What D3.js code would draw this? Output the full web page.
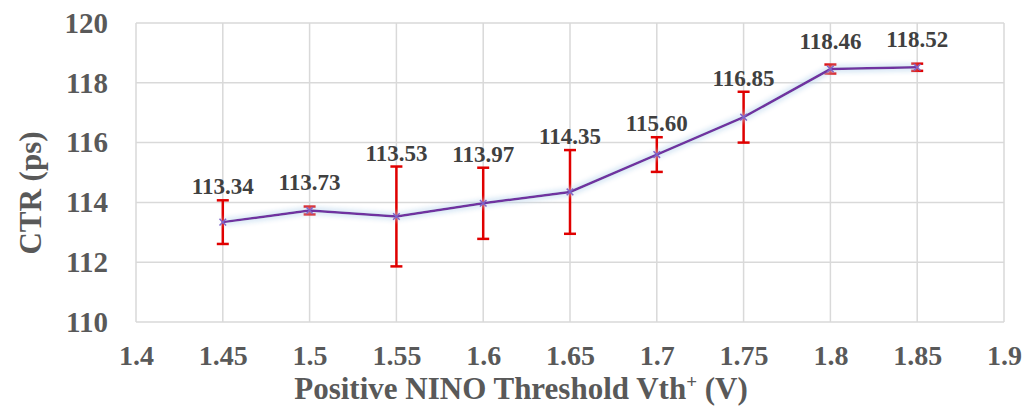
<!DOCTYPE html>
<html>
<head>
<meta charset="utf-8">
<script src="https://cdn.jsdelivr.net/npm/d3@7"></script>
<style>
  body { margin: 0; background: #fff; }
  svg text { font-family: "Liberation Serif", "Times New Roman", serif !important; font-weight: bold; }
</style>
</head>
<body>
<div id="chart"></div>
<script>
// data
var thresholds = [1.45, 1.5, 1.55, 1.6, 1.65, 1.7, 1.75, 1.8, 1.85];
var ctr = [113.34, 113.73, 113.53, 113.97, 114.35, 115.60, 116.85, 118.46, 118.52];
var ctrErr = [0.73, 0.13, 1.67, 1.19, 1.4, 0.58, 0.85, 0.15, 0.12];
var xTicks = [1.4, 1.45, 1.5, 1.55, 1.6, 1.65, 1.7, 1.75, 1.8, 1.85, 1.9];
var yTicks = [110, 112, 114, 116, 118, 120];

var data = thresholds.map(function(t, i) {
  return {x: t, y: ctr[i], err: ctrErr[i]};
});

var W = 1029, H = 414;
var margin = {top: 23, right: 25, bottom: 92, left: 136},
    width = W - margin.left - margin.right,
    height = H - margin.top - margin.bottom;

var svg = d3.select("#chart").append("svg")
    .attr("width", W)
    .attr("height", H);

// soft blue glow under the line
var defs = svg.append("defs");
var glow = defs.append("filter").attr("id", "glow")
    .attr("x", "-10%").attr("y", "-50%").attr("width", "120%").attr("height", "200%");
glow.append("feGaussianBlur").attr("in", "SourceAlpha").attr("stdDeviation", 3).attr("result", "b");
glow.append("feFlood").attr("flood-color", "#bdd7ee").attr("flood-opacity", 1);
glow.append("feComposite").attr("in2", "b").attr("operator", "in").attr("result", "g");
var merge = glow.append("feMerge");
merge.append("feMergeNode").attr("in", "g");
merge.append("feMergeNode").attr("in", "g");
merge.append("feMergeNode").attr("in", "SourceGraphic");

var g = svg.append("g")
    .attr("transform", "translate(" + margin.left + "," + margin.top + ")");

var x = d3.scaleLinear().domain([1.4, 1.9]).range([0, width]);
var y = d3.scaleLinear().domain([110, 120]).range([height, 0]);

// grid
g.selectAll(".vgrid")
  .data(xTicks)
  .enter().append("line")
    .attr("x1", function(d) { return x(d); })
    .attr("x2", function(d) { return x(d); })
    .attr("y1", 0)
    .attr("y2", height)
    .attr("stroke", "#d9d9d9")
    .attr("stroke-width", 1.5);

g.selectAll(".hgrid")
  .data(yTicks)
  .enter().append("line")
    .attr("x1", 0)
    .attr("x2", width)
    .attr("y1", function(d) { return y(d); })
    .attr("y2", function(d) { return y(d); })
    .attr("stroke", "#d9d9d9")
    .attr("stroke-width", 1.5);

// axes (labels only)
var xAxis = g.append("g")
    .attr("transform", "translate(0," + height + ")")
    .call(d3.axisBottom(x).tickValues(xTicks).tickSize(0).tickPadding(23)
      .tickFormat(function(d) { return String(+d.toFixed(2)); }));
xAxis.select(".domain").remove();
xAxis.selectAll("text")
    .attr("fill", "#595959")
    .style("font-size", "28px");

var yAxis = g.append("g")
    .call(d3.axisLeft(y).tickValues(yTicks).tickSize(0).tickPadding(28));
yAxis.select(".domain").remove();
yAxis.selectAll("text")
    .attr("fill", "#595959")
    .style("font-size", "29px");

// error bars
var eb = g.selectAll(".err")
  .data(data)
  .enter().append("g")
    .attr("class", "err")
    .attr("stroke", "#e00000")
    .attr("stroke-width", 2.5);

eb.append("line")
    .attr("x1", function(d) { return x(d.x); })
    .attr("x2", function(d) { return x(d.x); })
    .attr("y1", function(d) { return y(d.y + d.err); })
    .attr("y2", function(d) { return y(d.y - d.err); });

eb.append("line")
    .attr("x1", function(d) { return x(d.x) - 6; })
    .attr("x2", function(d) { return x(d.x) + 6; })
    .attr("y1", function(d) { return y(d.y + d.err); })
    .attr("y2", function(d) { return y(d.y + d.err); });

eb.append("line")
    .attr("x1", function(d) { return x(d.x) - 6; })
    .attr("x2", function(d) { return x(d.x) + 6; })
    .attr("y1", function(d) { return y(d.y - d.err); })
    .attr("y2", function(d) { return y(d.y - d.err); });

// line
var line = d3.line()
    .x(function(d) { return x(d.x); })
    .y(function(d) { return y(d.y); });

g.append("path")
    .datum(data)
    .attr("d", line)
    .attr("fill", "none")
    .attr("stroke", "#7030a0")
    .attr("stroke-width", 2.5)
    .attr("filter", "url(#glow)");

// small x markers
g.selectAll(".mark")
  .data(data)
  .enter().append("path")
    .attr("transform", function(d) { return "translate(" + x(d.x) + "," + y(d.y) + ")"; })
    .attr("d", d3.symbol().type(d3.symbolX).size(30))
    .attr("stroke", "#8064c8")
    .attr("stroke-width", 1.5)
    .attr("fill", "none");

// data labels
g.selectAll(".lbl")
  .data(data)
  .enter().append("text")
    .attr("x", function(d) { return x(d.x); })
    .attr("y", function(d) { return Math.min(y(d.y + d.err) - 6, y(d.y) - 20); })
    .attr("text-anchor", "middle")
    .attr("fill", "#404040")
    .style("font-size", "23px")
    .text(function(d) { return d.y.toFixed(2); });

// axis titles
svg.append("text")
    .attr("x", 521)
    .attr("y", 399)
    .attr("text-anchor", "middle")
    .attr("fill", "#595959")
    .style("font-size", "31px")
    .text("Positive NINO Threshold Vth")
  .append("tspan")
    .attr("dy", -11)
    .style("font-size", "19px")
    .text("+")
  .select(function() { return this.parentNode; })
  .append("tspan")
    .attr("dy", 11)
    .text(" (V)");

svg.append("text")
    .attr("transform", "translate(41,193) rotate(-90)")
    .attr("text-anchor", "middle")
    .attr("fill", "#595959")
    .style("font-size", "31px")
    .text("CTR (ps)");
</script>
</body>
</html>
